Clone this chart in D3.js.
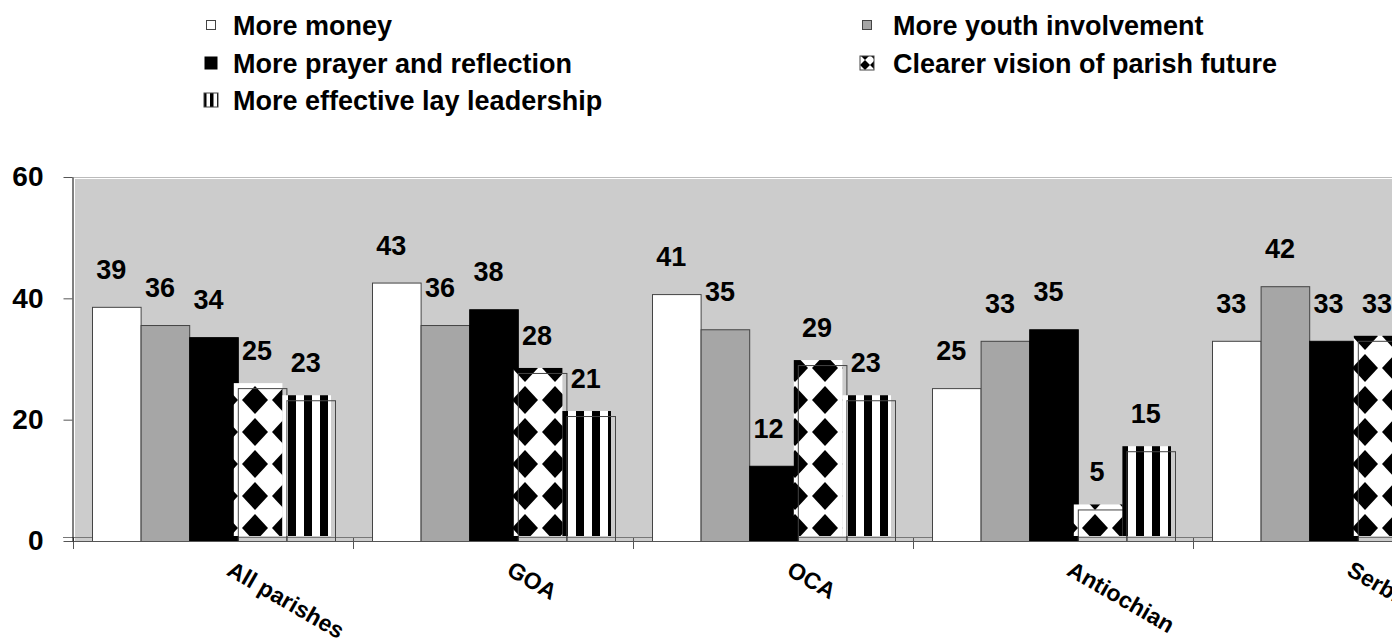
<html>
<script src="https://d3js.org/d3.v7.min.js"></script>
<style>
body { margin: 0; background: #fff; overflow: hidden; }
text { font-family: "Liberation Sans", Arial, sans-serif; font-weight: bold; fill: #000; }
</style>
<body>
<div id="chart"></div>
<script>
// data
var categories = ["All parishes", "GOA", "OCA", "Antiochian", "Serbian"];
var series = ["More money", "More youth involvement", "More prayer and reflection",
              "Clearer vision of parish future", "More effective lay leadership"];
var moreMoney = [38.6, 42.6, 40.7, 25.2, 33.0];
var moreYouth = [35.6, 35.6, 34.9, 33.0, 42.0];
var morePrayer = [33.6, 38.2, 12.4, 34.9, 33.0];
var clearerVision = [25.2, 27.7, 29.0, 5.2, 33.0];
var layLeadership = [23.2, 20.6, 23.2, 14.8, null]; // Serbian bar is off the picture
var yTicks = [0, 20, 40, 60];

var values = [moreMoney, moreYouth, morePrayer, clearerVision, layLeadership];

var W = 1392, H = 644;
var svg = d3.select("#chart").append("svg")
  .attr("width", W)
  .attr("height", H);

// patterns
var defs = svg.append("defs");
var dia = defs.append("pattern").attr("id", "diamonds")
  .attr("patternUnits", "userSpaceOnUse").attr("width", 30).attr("height", 32);
dia.append("rect").attr("width", 30).attr("height", 32).attr("fill", "#fff");
dia.append("polygon").attr("points", "15,2 28,16 15,30 2,16").attr("fill", "#000");

var str = defs.append("pattern").attr("id", "stripes")
  .attr("patternUnits", "userSpaceOnUse").attr("width", 16).attr("height", 10);
str.append("rect").attr("width", 16).attr("height", 10).attr("fill", "#fff");
str.append("rect").attr("width", 8).attr("height", 10).attr("fill", "#000");

var diaS = defs.append("pattern").attr("id", "diamondsSmall")
  .attr("patternUnits", "userSpaceOnUse").attr("width", 10).attr("height", 10);
diaS.append("rect").attr("width", 10).attr("height", 10).attr("fill", "#fff");
diaS.append("polygon").attr("points", "5,0 10,5 5,10 0,5").attr("fill", "#000");

var strS = defs.append("pattern").attr("id", "stripesSmall")
  .attr("patternUnits", "userSpaceOnUse").attr("width", 7).attr("height", 10);
strS.append("rect").attr("width", 7).attr("height", 10).attr("fill", "#fff");
strS.append("rect").attr("width", 3.5).attr("height", 10).attr("fill", "#000");

var fills = ["#ffffff", "#a6a6a6", "#000000", "url(#diamonds)", "url(#stripes)"];
var swatchFills = ["#ffffff", "#a6a6a6", "#000000", "url(#diamondsSmall)", "url(#stripesSmall)"];
var patterned = [false, false, false, true, true];

// scales
var x0 = d3.scaleBand().domain(categories).range([73, 73 + 280 * categories.length]);
var x1 = d3.scaleBand().domain(series).range([19, 262]);
var y = d3.scaleLinear().domain([0, 60]).range([541, 177]);

// plot area
svg.append("rect")
  .attr("x", 75).attr("y", 179)
  .attr("width", W).attr("height", 542 - 179)
  .attr("fill", "#cccccc");
svg.append("line")
  .attr("x1", 72).attr("x2", W).attr("y1", 177.5).attr("y2", 177.5)
  .attr("stroke", "#bbbbbb");
svg.append("line")
  .attr("x1", 63).attr("x2", W).attr("y1", 537.5).attr("y2", 537.5)
  .attr("stroke", "#777777");

// bars
categories.forEach(function(c, ci) {
  series.forEach(function(s, si) {
    var v = values[si][ci];
    if (v == null) return;
    var bx = x0(c) + x1(s), bw = x1.bandwidth();
    var top = y(v), h = y(0) - top;
    if (patterned[si]) {
      // the fill sits a few pixels up-left of its outline, as in the original
      svg.append("rect")
        .attr("x", bx - 4).attr("y", top - 5)
        .attr("width", bw).attr("height", h)
        .attr("fill", fills[si]);
      svg.append("rect")
        .attr("x", bx + 0.5).attr("y", top + 0.5)
        .attr("width", bw).attr("height", h)
        .attr("fill", "none").attr("stroke", "#444");
    } else {
      svg.append("rect")
        .attr("x", bx + 0.5).attr("y", top + 0.5)
        .attr("width", bw).attr("height", h)
        .attr("fill", fills[si])
        .attr("stroke", si == 2 ? "#000" : "#444");
    }
  });
});

// value labels
var fmt = d3.format(".0f");
categories.forEach(function(c, ci) {
  series.forEach(function(s, si) {
    var v = values[si][ci];
    if (v == null) return;
    svg.append("text")
      .attr("x", x0(c) + x1(s) + x1.bandwidth() / 2 - 5)
      .attr("y", y(v) - 28)
      .attr("text-anchor", "middle")
      .style("font-size", "27px")
      .text(fmt(v));
  });
});

// x axis
svg.append("line")
  .attr("x1", 72).attr("x2", W).attr("y1", 541.5).attr("y2", 541.5)
  .attr("stroke", "#555");
d3.range(categories.length + 1).forEach(function(i) {
  var tx = 73 + 280 * i + 0.5;
  svg.append("line")
    .attr("x1", tx).attr("x2", tx).attr("y1", 538).attr("y2", 549)
    .attr("stroke", "#555");
});
categories.forEach(function(c) {
  var cx = x0(c) + x0.bandwidth() / 2;
  svg.append("text")
    .attr("transform", "translate(" + (cx + 19) + ",563) rotate(30)")
    .attr("y", 13)
    .style("font-size", "23px")
    .text(c);
});

// y axis
var yAxis = svg.append("g")
  .attr("transform", "translate(72.5,0)")
  .call(d3.axisLeft(y).tickValues(yTicks).tickSize(9).tickSizeOuter(0).tickPadding(20));
yAxis.select(".domain").attr("stroke", "#000");
yAxis.selectAll(".tick line").attr("stroke", "#555");
yAxis.selectAll(".tick text")
  .style("font-size", "28px")
  .style("font-family", "'Liberation Sans', Arial, sans-serif")
  .style("font-weight", "bold")
  .attr("fill", "#000");

// legend
var legendX = [211, 867, 211, 867, 211];
var legendY = [35, 35, 73, 73, 110];
var textGap = [22, 26, 22, 26, 22];
var swatchSize = [9, 9, 12, 14, 14];
series.forEach(function(s, i) {
  var sz = swatchSize[i];
  svg.append("rect")
    .attr("x", legendX[i] - sz / 2).attr("y", legendY[i] - 10 - sz / 2)
    .attr("width", sz).attr("height", sz)
    .attr("fill", swatchFills[i])
    .attr("stroke", i == 2 ? "#000" : "#444");
  svg.append("text")
    .attr("x", legendX[i] + textGap[i]).attr("y", legendY[i])
    .style("font-size", "27px")
    .text(s);
});
</script>
</body>
</html>
